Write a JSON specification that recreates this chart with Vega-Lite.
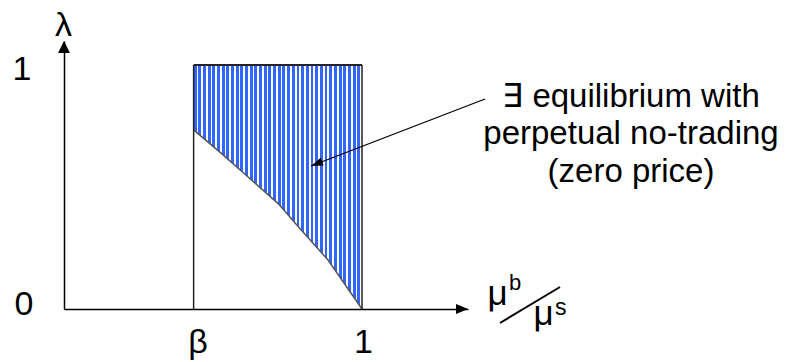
{
  "$schema": "https://vega.github.io/schema/vega-lite/v6.json",
  "width": 404,
  "height": 268,
  "autosize": {"type": "none"},
  "padding": {"left": 64, "top": 41, "right": 317, "bottom": 53},
  "background": "white",
  "config": {"view": {"stroke": null}, "font": "Liberation Sans", "axis": {"grid": false, "ticks": false}},
  "datasets": {
    "curve": [
      {"ratio": 0.435, "lam": 0.734},
      {"ratio": 0.528, "lam": 0.638},
      {"ratio": 0.617, "lam": 0.542},
      {"ratio": 0.718, "lam": 0.433},
      {"ratio": 0.796, "lam": 0.324},
      {"ratio": 0.886, "lam": 0.201},
      {"ratio": 1.0, "lam": 0.0}
    ],
    "one": [{}]
  },
  "layer": [
    {
      "data": {"name": "curve"},
      "mark": {
        "type": "area",
        "opacity": 1,
        "fill": {
          "gradient": "linear", "x1": 0, "x2": 1, "y1": 0, "y2": 0,
          "stops": [
            {"offset": 0, "color": "#3366ff"}, {"offset": 0.0172, "color": "#3366ff"}, {"offset": 0.0172, "color": "#ffffff"}, {"offset": 0.0278, "color": "#ffffff"},
            {"offset": 0.0278, "color": "#3366ff"}, {"offset": 0.0450, "color": "#3366ff"}, {"offset": 0.0450, "color": "#ffffff"}, {"offset": 0.0556, "color": "#ffffff"},
            {"offset": 0.0556, "color": "#3366ff"}, {"offset": 0.0728, "color": "#3366ff"}, {"offset": 0.0728, "color": "#ffffff"}, {"offset": 0.0833, "color": "#ffffff"},
            {"offset": 0.0833, "color": "#3366ff"}, {"offset": 0.1005, "color": "#3366ff"}, {"offset": 0.1005, "color": "#ffffff"}, {"offset": 0.1111, "color": "#ffffff"},
            {"offset": 0.1111, "color": "#3366ff"}, {"offset": 0.1283, "color": "#3366ff"}, {"offset": 0.1283, "color": "#ffffff"}, {"offset": 0.1389, "color": "#ffffff"},
            {"offset": 0.1389, "color": "#3366ff"}, {"offset": 0.1561, "color": "#3366ff"}, {"offset": 0.1561, "color": "#ffffff"}, {"offset": 0.1667, "color": "#ffffff"},
            {"offset": 0.1667, "color": "#3366ff"}, {"offset": 0.1839, "color": "#3366ff"}, {"offset": 0.1839, "color": "#ffffff"}, {"offset": 0.1944, "color": "#ffffff"},
            {"offset": 0.1944, "color": "#3366ff"}, {"offset": 0.2116, "color": "#3366ff"}, {"offset": 0.2116, "color": "#ffffff"}, {"offset": 0.2222, "color": "#ffffff"},
            {"offset": 0.2222, "color": "#3366ff"}, {"offset": 0.2394, "color": "#3366ff"}, {"offset": 0.2394, "color": "#ffffff"}, {"offset": 0.25, "color": "#ffffff"},
            {"offset": 0.25, "color": "#3366ff"}, {"offset": 0.2672, "color": "#3366ff"}, {"offset": 0.2672, "color": "#ffffff"}, {"offset": 0.2778, "color": "#ffffff"},
            {"offset": 0.2778, "color": "#3366ff"}, {"offset": 0.2950, "color": "#3366ff"}, {"offset": 0.2950, "color": "#ffffff"}, {"offset": 0.3056, "color": "#ffffff"},
            {"offset": 0.3056, "color": "#3366ff"}, {"offset": 0.3228, "color": "#3366ff"}, {"offset": 0.3228, "color": "#ffffff"}, {"offset": 0.3333, "color": "#ffffff"},
            {"offset": 0.3333, "color": "#3366ff"}, {"offset": 0.3505, "color": "#3366ff"}, {"offset": 0.3505, "color": "#ffffff"}, {"offset": 0.3611, "color": "#ffffff"},
            {"offset": 0.3611, "color": "#3366ff"}, {"offset": 0.3783, "color": "#3366ff"}, {"offset": 0.3783, "color": "#ffffff"}, {"offset": 0.3889, "color": "#ffffff"},
            {"offset": 0.3889, "color": "#3366ff"}, {"offset": 0.4061, "color": "#3366ff"}, {"offset": 0.4061, "color": "#ffffff"}, {"offset": 0.4167, "color": "#ffffff"},
            {"offset": 0.4167, "color": "#3366ff"}, {"offset": 0.4339, "color": "#3366ff"}, {"offset": 0.4339, "color": "#ffffff"}, {"offset": 0.4444, "color": "#ffffff"},
            {"offset": 0.4444, "color": "#3366ff"}, {"offset": 0.4616, "color": "#3366ff"}, {"offset": 0.4616, "color": "#ffffff"}, {"offset": 0.4722, "color": "#ffffff"},
            {"offset": 0.4722, "color": "#3366ff"}, {"offset": 0.4894, "color": "#3366ff"}, {"offset": 0.4894, "color": "#ffffff"}, {"offset": 0.5, "color": "#ffffff"},
            {"offset": 0.5, "color": "#3366ff"}, {"offset": 0.5172, "color": "#3366ff"}, {"offset": 0.5172, "color": "#ffffff"}, {"offset": 0.5278, "color": "#ffffff"},
            {"offset": 0.5278, "color": "#3366ff"}, {"offset": 0.5450, "color": "#3366ff"}, {"offset": 0.5450, "color": "#ffffff"}, {"offset": 0.5556, "color": "#ffffff"},
            {"offset": 0.5556, "color": "#3366ff"}, {"offset": 0.5728, "color": "#3366ff"}, {"offset": 0.5728, "color": "#ffffff"}, {"offset": 0.5833, "color": "#ffffff"},
            {"offset": 0.5833, "color": "#3366ff"}, {"offset": 0.6005, "color": "#3366ff"}, {"offset": 0.6005, "color": "#ffffff"}, {"offset": 0.6111, "color": "#ffffff"},
            {"offset": 0.6111, "color": "#3366ff"}, {"offset": 0.6283, "color": "#3366ff"}, {"offset": 0.6283, "color": "#ffffff"}, {"offset": 0.6389, "color": "#ffffff"},
            {"offset": 0.6389, "color": "#3366ff"}, {"offset": 0.6561, "color": "#3366ff"}, {"offset": 0.6561, "color": "#ffffff"}, {"offset": 0.6667, "color": "#ffffff"},
            {"offset": 0.6667, "color": "#3366ff"}, {"offset": 0.6839, "color": "#3366ff"}, {"offset": 0.6839, "color": "#ffffff"}, {"offset": 0.6944, "color": "#ffffff"},
            {"offset": 0.6944, "color": "#3366ff"}, {"offset": 0.7116, "color": "#3366ff"}, {"offset": 0.7116, "color": "#ffffff"}, {"offset": 0.7222, "color": "#ffffff"},
            {"offset": 0.7222, "color": "#3366ff"}, {"offset": 0.7394, "color": "#3366ff"}, {"offset": 0.7394, "color": "#ffffff"}, {"offset": 0.75, "color": "#ffffff"},
            {"offset": 0.75, "color": "#3366ff"}, {"offset": 0.7672, "color": "#3366ff"}, {"offset": 0.7672, "color": "#ffffff"}, {"offset": 0.7778, "color": "#ffffff"},
            {"offset": 0.7778, "color": "#3366ff"}, {"offset": 0.7950, "color": "#3366ff"}, {"offset": 0.7950, "color": "#ffffff"}, {"offset": 0.8056, "color": "#ffffff"},
            {"offset": 0.8056, "color": "#3366ff"}, {"offset": 0.8228, "color": "#3366ff"}, {"offset": 0.8228, "color": "#ffffff"}, {"offset": 0.8333, "color": "#ffffff"},
            {"offset": 0.8333, "color": "#3366ff"}, {"offset": 0.8505, "color": "#3366ff"}, {"offset": 0.8505, "color": "#ffffff"}, {"offset": 0.8611, "color": "#ffffff"},
            {"offset": 0.8611, "color": "#3366ff"}, {"offset": 0.8783, "color": "#3366ff"}, {"offset": 0.8783, "color": "#ffffff"}, {"offset": 0.8889, "color": "#ffffff"},
            {"offset": 0.8889, "color": "#3366ff"}, {"offset": 0.9061, "color": "#3366ff"}, {"offset": 0.9061, "color": "#ffffff"}, {"offset": 0.9167, "color": "#ffffff"},
            {"offset": 0.9167, "color": "#3366ff"}, {"offset": 0.9339, "color": "#3366ff"}, {"offset": 0.9339, "color": "#ffffff"}, {"offset": 0.9444, "color": "#ffffff"},
            {"offset": 0.9444, "color": "#3366ff"}, {"offset": 0.9616, "color": "#3366ff"}, {"offset": 0.9616, "color": "#ffffff"}, {"offset": 0.9722, "color": "#ffffff"},
            {"offset": 0.9722, "color": "#3366ff"}, {"offset": 0.9894, "color": "#3366ff"}, {"offset": 0.9894, "color": "#ffffff"}, {"offset": 1, "color": "#ffffff"}
          ]
        }
      },
      "encoding": {
        "x": {
          "field": "ratio", "type": "quantitative",
          "scale": {"domain": [0, 1.3557], "nice": false, "zero": false},
          "axis": {
            "title": null, "values": [0.435, 1],
            "labelExpr": "datum.value < 0.5 ? 'β' : '1'",
            "domainColor": "#000000", "domainWidth": 1.5,
            "labelFont": "Liberation Sans", "labelFontSize": 34, "labelColor": "#000000",
            "labelBaseline": "alphabetic", "labelPadding": 43,
            "labelOffset": {"condition": {"test": "datum.value < 0.5", "value": 4}, "value": 1},
            "labelOverlap": false, "labelFlush": false, "labelBound": false
          }
        },
        "y": {
          "field": "lam", "type": "quantitative",
          "scale": {"domain": [0, 1.09836], "nice": false, "zero": false},
          "axis": {
            "title": "λ", "titleAngle": 0, "titleX": -1, "titleY": -6,
            "titleAlign": "center", "titleBaseline": "alphabetic",
            "titleFont": "Liberation Sans", "titleFontSize": 34, "titleFontWeight": "normal", "titleColor": "#000000",
            "values": [0, 1], "format": "d",
            "domainColor": "#000000", "domainWidth": 1.5,
            "labelFont": "Liberation Sans", "labelFontSize": 34, "labelColor": "#000000",
            "labelBaseline": "alphabetic",
            "labelOffset": {"condition": {"test": "datum.value == 0", "value": 5.5}, "value": 15},
            "labelPadding": {"condition": {"test": "datum.value == 0", "value": 31}, "value": 33},
            "labelOverlap": false, "labelBound": false
          }
        },
        "y2": {"datum": 1}
      }
    },
    {
      "data": {"name": "curve"},
      "mark": {"type": "line", "color": "#555555", "strokeWidth": 1.5},
      "encoding": {
        "x": {"field": "ratio", "type": "quantitative"},
        "y": {"field": "lam", "type": "quantitative"}
      }
    },
    {
      "data": {"name": "one"},
      "mark": {"type": "rule", "color": "#222222", "strokeWidth": 2},
      "encoding": {"x": {"datum": 0.435}, "x2": {"datum": 1}, "y": {"datum": 1}}
    },
    {
      "data": {"name": "one"},
      "mark": {"type": "rule", "color": "#222222", "strokeWidth": 1.5},
      "encoding": {"x": {"datum": 0.435}, "y": {"datum": 0}, "y2": {"datum": 1}}
    },
    {
      "data": {"name": "one"},
      "mark": {"type": "rule", "color": "#222222", "strokeWidth": 1.5},
      "encoding": {"x": {"datum": 1}, "y": {"datum": 0}, "y2": {"datum": 1}}
    },
    {
      "data": {"name": "one"},
      "mark": {"type": "point", "shape": "M0,0L-2,-0.85L-2,0.85Z", "size": 144, "filled": true, "color": "#000000", "opacity": 1, "strokeWidth": 0},
      "encoding": {"x": {"datum": 1.3557}, "y": {"datum": 0}}
    },
    {
      "data": {"name": "one"},
      "mark": {"type": "point", "shape": "M0,0L-1,2L1,2Z", "size": 144, "filled": true, "color": "#000000", "opacity": 1, "strokeWidth": 0},
      "encoding": {"x": {"datum": 0}, "y": {"datum": 1.09836}}
    },
    {
      "data": {"name": "one"},
      "mark": {"type": "rule", "color": "#000000", "strokeWidth": 1.3},
      "encoding": {"x": {"datum": 1.4128}, "y": {"datum": 0.8607}, "x2": {"datum": 0.8289}, "y2": {"datum": 0.5861}}
    },
    {
      "data": {"name": "one"},
      "mark": {"type": "point", "shape": "M0,0L2,-0.7L2,0.7Z", "angle": 339, "size": 144, "filled": true, "color": "#000000", "opacity": 1, "strokeWidth": 0},
      "encoding": {"x": {"datum": 0.8289}, "y": {"datum": 0.5861}}
    },
    {
      "data": {"name": "one"},
      "mark": {"type": "text", "text": ["∃ equilibrium with", "perpetual no-trading", "(zero price)"], "align": "center", "baseline": "alphabetic", "fontSize": 33, "lineHeight": 37.5, "font": "Liberation Sans", "color": "#000000"},
      "encoding": {"x": {"datum": 1.9027}, "y": {"datum": 0.8279}}
    },
    {
      "data": {"name": "one"},
      "mark": {"type": "text", "text": "μ", "align": "left", "baseline": "alphabetic", "fontSize": 35, "font": "Liberation Sans", "color": "#000000"},
      "encoding": {"x": {"datum": 1.4211}, "y": {"datum": 0.0164}}
    },
    {
      "data": {"name": "one"},
      "mark": {"type": "text", "text": "b", "align": "left", "baseline": "alphabetic", "fontSize": 22, "font": "Liberation Sans", "color": "#000000"},
      "encoding": {"x": {"datum": 1.4933}, "y": {"datum": 0.0779}}
    },
    {
      "data": {"name": "one"},
      "mark": {"type": "text", "text": "μ", "align": "left", "baseline": "alphabetic", "fontSize": 35, "font": "Liberation Sans", "color": "#000000"},
      "encoding": {"x": {"datum": 1.5755}, "y": {"datum": -0.0656}}
    },
    {
      "data": {"name": "one"},
      "mark": {"type": "text", "text": "s", "align": "left", "baseline": "alphabetic", "fontSize": 23, "font": "Liberation Sans", "color": "#000000"},
      "encoding": {"x": {"datum": 1.6477}, "y": {"datum": -0.0246}}
    },
    {
      "data": {"name": "one"},
      "mark": {"type": "rule", "color": "#000000", "strokeWidth": 2},
      "encoding": {"x": {"datum": 1.4631}, "y": {"datum": -0.0574}, "x2": {"datum": 1.6644}, "y2": {"datum": 0.0902}}
    }
  ]
}
